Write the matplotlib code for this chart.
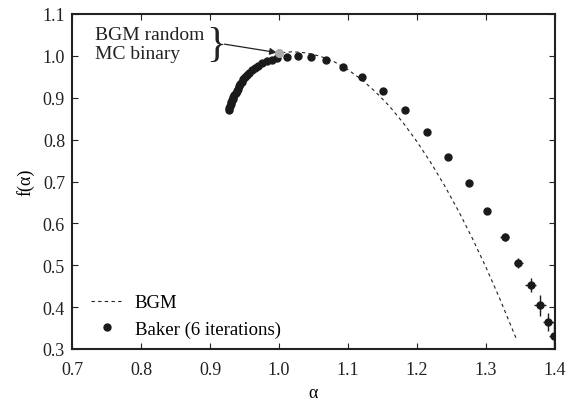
import numpy as np
import matplotlib
matplotlib.use('Agg')
from matplotlib import pyplot as plt
from matplotlib.lines import Line2D

# Baker (6 iterations)
baker_alpha = [0.927, 0.928, 0.929, 0.930, 0.931, 0.932, 0.933, 0.934, 0.9355,
               0.937, 0.9385, 0.940, 0.942, 0.944, 0.946, 0.948, 0.951, 0.954,
               0.957, 0.961, 0.965, 0.970, 0.976, 0.983, 0.990, 0.9966,
               1.011, 1.027, 1.046, 1.068, 1.093, 1.121, 1.151, 1.183, 1.214,
               1.245, 1.275, 1.302, 1.327, 1.347, 1.365, 1.378, 1.390, 1.399]
baker_f = [0.870, 0.876, 0.881, 0.886, 0.890, 0.894, 0.898, 0.901, 0.906,
           0.911, 0.916, 0.921, 0.927, 0.932, 0.937, 0.944, 0.949, 0.955,
           0.960, 0.966, 0.971, 0.977, 0.983, 0.987, 0.991, 0.994,
           0.998, 1.000, 0.998, 0.989, 0.973, 0.949, 0.915, 0.871, 0.819,
           0.759, 0.696, 0.630, 0.567, 0.506, 0.453, 0.405, 0.365, 0.332]
# похибки тільки для останніх точок
baker_xerr = [0.0] * 37 + [0.003, 0.006, 0.007, 0.008, 0.009, 0.008, 0.008]
baker_ferr = [0.0] * 37 + [0.004, 0.010, 0.012, 0.016, 0.025, 0.022, 0.032]

# BGM крива
bgm_alpha = [0.995, 1.00, 1.02, 1.04, 1.06, 1.08, 1.10, 1.12, 1.14, 1.16,
             1.18, 1.20, 1.22, 1.24, 1.26, 1.28, 1.30, 1.32, 1.345]
bgm_f = [1.004, 1.007, 1.010, 1.007, 0.999, 0.986, 0.967, 0.943, 0.914, 0.880,
         0.840, 0.795, 0.745, 0.690, 0.630, 0.565, 0.495, 0.420, 0.320]

# BGM random MC binary
mc_alpha = [1.0]
mc_f = [1.007]

x_ticks = [0.7, 0.8, 0.9, 1.0, 1.1, 1.2, 1.3, 1.4]
y_ticks = [0.3, 0.4, 0.5, 0.6, 0.7, 0.8, 0.9, 1.0, 1.1]

plt.rcParams['font.family'] = ['Liberation Serif', 'DejaVu Serif']
plt.rcParams['font.size'] = 13

fig = plt.figure(figsize=(5.78, 4.06), dpi=100)
ax = fig.add_axes([72 / 578, 1 - 350 / 406, (555 - 72) / 578, (350 - 15) / 406])

ax.plot(bgm_alpha, bgm_f, linestyle=(0, (3, 3)), color='#222222', linewidth=0.8,
        zorder=2)
ax.errorbar(baker_alpha, baker_f, xerr=baker_xerr, yerr=baker_ferr, fmt='o',
            color='#1a1a1a', markersize=5, elinewidth=1.0, capsize=0, zorder=3)
ax.plot(mc_alpha, mc_f, 'o', color='#aaaaaa', markersize=5.5, zorder=4)

# Анотація
ax.annotate('', xy=(0.9966, 1.008), xytext=(0.921, 1.028),
            arrowprops=dict(arrowstyle='-|>', color='#222222', lw=0.9,
                            mutation_scale=10, shrinkA=0, shrinkB=0))
ax.text(0.7335, 1.028, 'BGM random\nMC binary', fontsize=14, va='center',
        ha='left', linespacing=1.1, color='#222222')
ax.text(0.9085, 1.027, '}', fontsize=30, va='center', ha='center',
        color='#222222')

ax.set_xlim(0.7, 1.4)
ax.set_ylim(0.3, 1.1)
ax.set_xticks(x_ticks)
ax.set_yticks(y_ticks)
ax.set_xticklabels(['%.1f' % v for v in x_ticks])
ax.set_yticklabels(['%.1f' % v for v in y_ticks])
ax.tick_params(direction='in', length=4, width=0.8, top=True, right=True,
               labelsize=13, colors='#222222')
ax.tick_params(axis='x', pad=9)
ax.tick_params(axis='y', pad=5)
for s in ax.spines.values():
    s.set_linewidth(1.5)
    s.set_color('#222222')

ax.set_xlabel('α', fontsize=13, labelpad=4)
ax.set_ylabel('f(α)', fontsize=13, labelpad=6)

handles = [Line2D([], [], linestyle=(0, (3, 3)), color='#222222', linewidth=0.8),
           Line2D([], [], linestyle='none', marker='o', markersize=5, color='#1a1a1a')]
ax.legend(handles, ['BGM', 'Baker (6 iterations)'], loc='lower left',
          bbox_to_anchor=(0.017, 0.0), frameon=False, handlelength=1.7,
          handletextpad=0.6, labelspacing=0.5, borderaxespad=0.3,
          borderpad=0.3, fontsize=13.5)

fig.savefig('out.png', dpi=100)
